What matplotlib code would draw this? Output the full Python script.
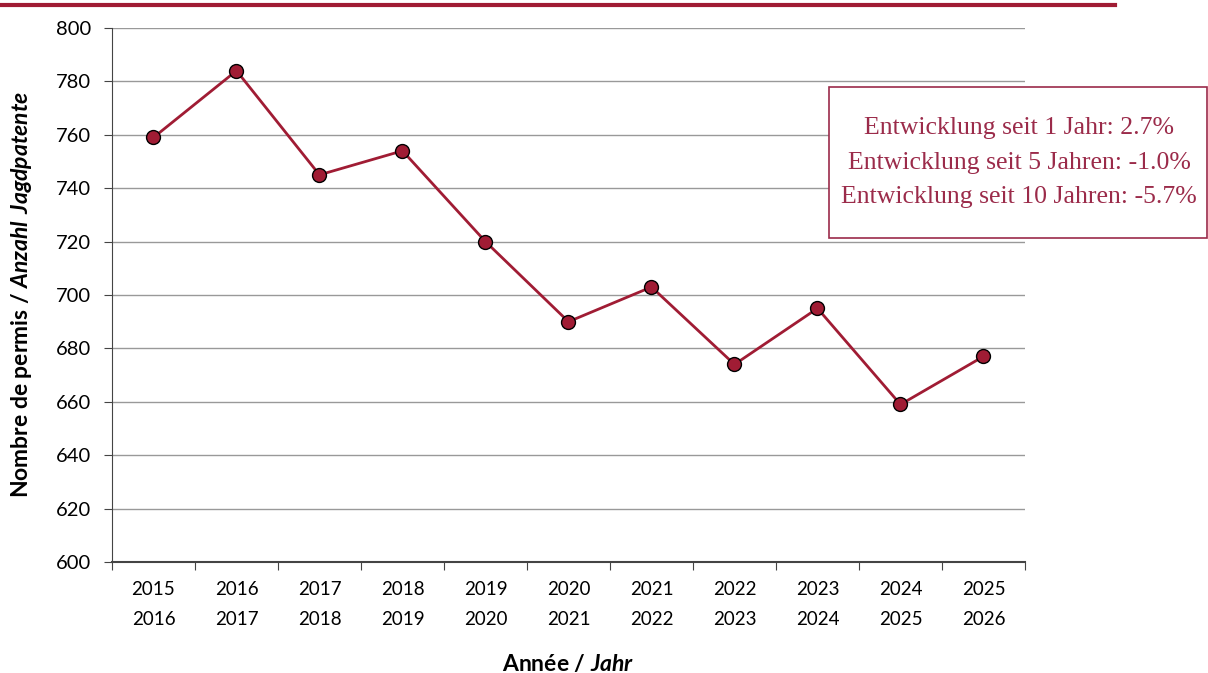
import matplotlib.pyplot as plt
from matplotlib.lines import Line2D
from matplotlib.patches import Rectangle
import numpy as np

labels = ["2015\n2016", "2016\n2017", "2017\n2018", "2018\n2019", "2019\n2020", "2020\n2021",
          "2021\n2022", "2022\n2023", "2023\n2024", "2024\n2025", "2025\n2026"]
permits = [759, 784, 745, 754, 720, 690, 703, 674, 695, 659, 677]
info = ["Entwicklung seit 1 Jahr: 2.7%",
        "Entwicklung seit 5 Jahren: -1.0%",
        "Entwicklung seit 10 Jahren: -5.7%"]

red = "#A01C34"
plt.rcParams['font.family'] = ['Lato', 'DejaVu Sans']
plt.rcParams['mathtext.fontset'] = 'custom'
plt.rcParams['mathtext.bfit'] = 'Lato:italic:bold'
plt.rcParams['mathtext.rm'] = 'Lato'

fig = plt.figure(figsize=(12.08, 6.73), dpi=100)
ax = fig.add_axes([0.0927, 0.1649, 0.7558, 0.7935])

x = np.arange(len(permits))
ax.plot(x, permits, color=red, lw=2, marker="o", markersize=10,
        markerfacecolor=red, markeredgecolor="black", markeredgewidth=1, zorder=3)

ax.set_ylim(600, 800)
ax.set_yticks(range(600, 801, 20))
ax.set_xlim(-0.5, len(permits) - 0.5)
ax.set_xticks(np.arange(-0.5, len(permits), 1))
ax.set_xticklabels([])
ax.set_xticks(x, minor=True)
ax.set_xticklabels(labels, minor=True, fontsize=13.5, linespacing=1.9)
ax.tick_params(axis="x", which="minor", length=0, pad=14)
ax.tick_params(axis="x", which="major", length=6, direction="out", color="#444444")
ax.tick_params(axis="y", length=6, direction="out", color="#444444", labelsize=14.5, pad=9)

ax.grid(axis="y", color="#999999", lw=1)
ax.set_axisbelow(True)
for s in ["top", "right"]:
    ax.spines[s].set_visible(False)
ax.spines["left"].set_color("#444444")
ax.spines["bottom"].set_color("#444444")
ax.spines["bottom"].set_linewidth(1.5)

ax.set_xlabel(r"Année / $\mathbfit{Jahr}$", fontsize=16.5, fontweight="bold", labelpad=18)
ax.set_ylabel(r"Nombre de permis / $\mathbfit{Anzahl\ Jagdpatente}$", fontsize=16.5,
              fontweight="bold", labelpad=16)

# info box
fig.add_artist(Rectangle((0.6863, 0.6464), 0.3130, 0.2243, transform=fig.transFigure,
                         fc="white", ec="#9B2B4A", lw=1.2, zorder=5))
fig.text(0.8435, 0.7585, "\n".join(info), ha="center", va="center", fontsize=18.5,
         family="Liberation Serif", color="#9B2B4A", linespacing=1.72, zorder=6)

fig.add_artist(Line2D([0, 0.923], [0.993, 0.993], color=red, lw=3, transform=fig.transFigure))

fig.savefig("out.png", dpi=100)
